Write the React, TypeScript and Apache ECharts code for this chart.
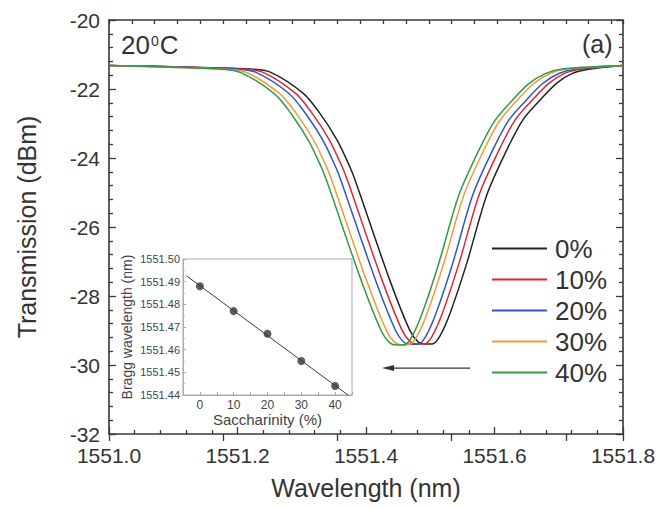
import React, { useEffect, useRef } from 'react';
import * as echarts from 'echarts';

const FONT = '"Liberation Sans", Arial, Helvetica, sans-serif';
const TEXT = '#333333';
const AXIS = '#383838';

// ---- main spectra (wavelength nm, transmission dBm) ----
const concentrations = ['0%', '10%', '20%', '30%', '40%'];
const curveColors = ['#232323', '#e2262d', '#2b57c8', '#f29a3e', '#2f9b47'];

const wavelength0 = [1551.000, 1551.219, 1551.251, 1551.302, 1551.328, 1551.355, 1551.375, 1551.383, 1551.437, 1551.468, 1551.481, 1551.492, 1551.503, 1551.515, 1551.531, 1551.557, 1551.588, 1551.619, 1551.644, 1551.671, 1551.697, 1551.722, 1551.749, 1551.800];
const transmission0 = [-21.32, -21.42, -21.51, -22.12, -22.70, -23.48, -24.26, -24.64, -27.54, -28.99, -29.33, -29.39, -29.39, -29.16, -28.49, -27.04, -25.07, -23.77, -22.90, -22.32, -21.83, -21.54, -21.42, -21.32];

const wavelength10 = [1551.000, 1551.207, 1551.239, 1551.290, 1551.316, 1551.343, 1551.363, 1551.371, 1551.425, 1551.456, 1551.469, 1551.480, 1551.491, 1551.503, 1551.519, 1551.545, 1551.576, 1551.607, 1551.632, 1551.659, 1551.685, 1551.710, 1551.737, 1551.800];
const transmission10 = [-21.32, -21.42, -21.51, -22.12, -22.70, -23.48, -24.26, -24.64, -27.54, -28.99, -29.33, -29.39, -29.39, -29.16, -28.49, -27.04, -25.07, -23.77, -22.90, -22.32, -21.83, -21.54, -21.42, -21.32];

const wavelength20 = [1551.000, 1551.197, 1551.229, 1551.280, 1551.306, 1551.333, 1551.353, 1551.361, 1551.415, 1551.446, 1551.459, 1551.470, 1551.481, 1551.493, 1551.509, 1551.535, 1551.566, 1551.597, 1551.622, 1551.649, 1551.675, 1551.700, 1551.727, 1551.800];
const transmission20 = [-21.32, -21.42, -21.52, -22.13, -22.71, -23.49, -24.27, -24.65, -27.55, -29.00, -29.34, -29.40, -29.40, -29.17, -28.50, -27.05, -25.08, -23.78, -22.91, -22.33, -21.84, -21.55, -21.42, -21.32];

const wavelength30 = [1551.000, 1551.183, 1551.215, 1551.266, 1551.292, 1551.319, 1551.339, 1551.347, 1551.401, 1551.432, 1551.445, 1551.456, 1551.467, 1551.479, 1551.495, 1551.521, 1551.552, 1551.583, 1551.608, 1551.635, 1551.661, 1551.686, 1551.713, 1551.800];
const transmission30 = [-21.32, -21.43, -21.53, -22.14, -22.72, -23.50, -24.28, -24.66, -27.56, -29.01, -29.35, -29.41, -29.41, -29.18, -28.51, -27.06, -25.09, -23.79, -22.92, -22.33, -21.84, -21.55, -21.42, -21.32];

const wavelength40 = [1551.000, 1551.175, 1551.207, 1551.258, 1551.284, 1551.311, 1551.331, 1551.339, 1551.393, 1551.424, 1551.437, 1551.448, 1551.459, 1551.471, 1551.487, 1551.513, 1551.544, 1551.575, 1551.600, 1551.627, 1551.653, 1551.678, 1551.705, 1551.800];
const transmission40 = [-21.32, -21.43, -21.54, -22.15, -22.73, -23.51, -24.29, -24.67, -27.57, -29.02, -29.36, -29.42, -29.42, -29.19, -28.52, -27.07, -25.10, -23.80, -22.93, -22.34, -21.85, -21.56, -21.42, -21.32];

const wavelengths = [wavelength0, wavelength10, wavelength20, wavelength30, wavelength40];
const transmissions = [transmission0, transmission10, transmission20, transmission30, transmission40];

// ---- inset: Bragg wavelength vs saccharinity ----
const saccharinity = [0, 10, 20, 30, 40];
const braggWavelength = [1551.488, 1551.477, 1551.467, 1551.455, 1551.444];
const fitSaccharinity = [-4, 44];
const fitWavelength = [1551.4926, 1551.4398];

// arrow annotation (data coordinates)
const arrowStart = [1551.562, -30.09];
const arrowEnd = [1551.425, -30.09];

const tickStyle = { color: AXIS, width: 1.3 };

export default function App() {
  const ref = useRef<HTMLDivElement>(null);

  useEffect(() => {
    if (!ref.current) return;
    const chart = echarts.init(ref.current, null, { renderer: 'svg' });

    const mainSeries = concentrations.map((name, k) => ({
      name,
      type: 'line',
      xAxisIndex: 0,
      yAxisIndex: 0,
      data: wavelengths[k].map((w, i) => [w, transmissions[k][i]]),
      symbol: 'none',
      showSymbol: false,
      smooth: 0.3,
      color: curveColors[k],
      lineStyle: { width: 1.5, color: curveColors[k] },
      z: 3,
    }));

    chart.setOption({
      animation: false,
      backgroundColor: '#ffffff',
      textStyle: { fontFamily: FONT },
      grid: [
        { left: 109, right: 47, top: 20, bottom: 74, outerBoundsMode: 'none', containLabel: false },
        { left: 183, top: 259, width: 169, height: 136, show: true, borderColor: '#aaaaaa', borderWidth: 1, backgroundColor: 'transparent', outerBoundsMode: 'none', containLabel: false },
        { left: 109, right: 47, top: 20, bottom: 74, show: false, outerBoundsMode: 'none', containLabel: false },
      ],
      legend: {
        data: concentrations,
        orient: 'vertical',
        left: 492,
        top: 233,
        padding: 0,
        itemGap: 0,
        itemWidth: 55,
        itemHeight: 2,
        icon: 'rect',
        selectedMode: false,
        textStyle: { fontSize: 26, color: TEXT, lineHeight: 31, fontFamily: FONT, padding: [0, 0, 0, 3] },
      },
      xAxis: [
        {
          type: 'value', gridIndex: 0, position: 'bottom',
          min: 1551.0, max: 1551.8, interval: 0.2,
          name: 'Wavelength (nm)', nameLocation: 'middle', nameGap: 41,
          nameTextStyle: { fontSize: 25, color: TEXT, fontFamily: FONT },
          axisLine: { show: true, onZero: false, lineStyle: { color: AXIS, width: 1.6 } },
          axisTick: { show: true, inside: true, length: 7, lineStyle: tickStyle },
          minorTick: { show: true, splitNumber: 5, length: 4, lineStyle: tickStyle },
          splitLine: { show: false },
          axisLabel: { fontSize: 21, color: TEXT, margin: 11, fontFamily: FONT, formatter: (v: number) => v.toFixed(1) },
        },
        {
          type: 'value', gridIndex: 0, position: 'top',
          min: 0, max: 0.9, interval: 0.04,
          axisLine: { show: true, onZero: false, lineStyle: { color: AXIS, width: 1.6 } },
          axisTick: { show: true, inside: true, length: 4, lineStyle: tickStyle },
          axisLabel: { show: false },
          splitLine: { show: false },
        },
        {
          type: 'value', gridIndex: 1, position: 'bottom',
          min: -5, max: 45, interval: 5,
          name: 'Saccharinity (%)', nameLocation: 'middle', nameGap: 16,
          nameTextStyle: { fontSize: 15, color: '#444444', fontFamily: FONT },
          axisLine: { show: true, onZero: false, lineStyle: { color: '#aaaaaa', width: 1 } },
          axisTick: { show: true, inside: true, length: 3, lineStyle: { color: '#aaaaaa' } },
          splitLine: { show: false },
          axisLabel: { fontSize: 12, color: '#444444', margin: 4, fontFamily: FONT, formatter: (v: number) => (v % 10 === 0 ? String(v) : '') },
        },
        {
          type: 'value', gridIndex: 2, position: 'top',
          min: 0, max: 0.9, interval: 0.2,
          axisLine: { show: false },
          axisTick: { show: true, inside: true, length: 7, lineStyle: tickStyle },
          axisLabel: { show: false },
          splitLine: { show: false },
        },
      ],
      yAxis: [
        {
          type: 'value', gridIndex: 0, position: 'left',
          min: -32, max: -20, interval: 2,
          name: 'Transmission (dBm)', nameLocation: 'middle', nameGap: 70,
          nameTextStyle: { fontSize: 25, color: TEXT, fontFamily: FONT },
          axisLine: { show: true, onZero: false, lineStyle: { color: AXIS, width: 1.6 } },
          axisTick: { show: true, inside: true, length: 7, lineStyle: tickStyle },
          minorTick: { show: true, splitNumber: 5, length: 4, lineStyle: tickStyle },
          splitLine: { show: false },
          axisLabel: { fontSize: 21, color: TEXT, margin: 9, fontFamily: FONT },
        },
        {
          type: 'value', gridIndex: 0, position: 'right',
          min: -32, max: -20, interval: 2,
          axisLine: { show: true, onZero: false, lineStyle: { color: AXIS, width: 1.6 } },
          axisTick: { show: true, inside: true, length: 7, lineStyle: tickStyle },
          minorTick: { show: true, splitNumber: 5, length: 4, lineStyle: tickStyle },
          splitLine: { show: false },
          axisLabel: { show: false },
        },
        {
          type: 'value', gridIndex: 1, position: 'left',
          min: 1551.44, max: 1551.5, interval: 0.01,
          name: 'Bragg wavelength (nm)', nameLocation: 'middle', nameGap: 49,
          nameTextStyle: { fontSize: 14, color: '#444444', fontFamily: FONT },
          axisLine: { show: true, onZero: false, lineStyle: { color: '#aaaaaa', width: 1 } },
          axisTick: { show: true, inside: true, length: 3, lineStyle: { color: '#aaaaaa' } },
          minorTick: { show: true, splitNumber: 2, length: 2, lineStyle: { color: '#bbbbbb' } },
          splitLine: { show: false },
          axisLabel: { fontSize: 11, color: '#444444', margin: 3, fontFamily: FONT, formatter: (v: number) => v.toFixed(2) },
        },
        {
          type: 'value', gridIndex: 2, show: false, min: 0, max: 1,
        },
      ],
      series: [
        ...mainSeries,
        {
          name: 'fit',
          type: 'line',
          xAxisIndex: 2,
          yAxisIndex: 2,
          data: fitSaccharinity.map((s, i) => [s, fitWavelength[i]]),
          symbol: 'none',
          lineStyle: { color: '#3a3a3a', width: 1 },
          z: 4,
        },
        {
          name: 'Bragg',
          type: 'scatter',
          xAxisIndex: 2,
          yAxisIndex: 2,
          data: saccharinity.map((s, i) => [s, braggWavelength[i]]),
          symbol: 'circle',
          symbolSize: 8,
          itemStyle: { color: '#333333' },
          z: 5,
        },
      ],
    });

    const p0 = chart.convertToPixel({ xAxisIndex: 0, yAxisIndex: 0 }, arrowStart) as number[];
    const p1 = chart.convertToPixel({ xAxisIndex: 0, yAxisIndex: 0 }, arrowEnd) as number[];

    chart.setOption({
      graphic: [
        {
          type: 'text',
          left: 121,
          top: 32,
          style: {
            text: '{b|20}{s|0}{b|C}',
            fontFamily: FONT,
            rich: {
              b: { fontSize: 26, lineHeight: 26, fill: TEXT, fontFamily: FONT },
              s: { fontSize: 14, lineHeight: 14, fill: TEXT, fontFamily: FONT, verticalAlign: 'top', padding: [2, 1, 0, 1] },
            },
          },
          z: 10,
        },
        {
          type: 'text',
          left: 582,
          top: 31,
          style: { text: '(a)', fontSize: 25, fill: TEXT, fontFamily: FONT },
          z: 10,
        },
        {
          type: 'line',
          shape: { x1: p0[0], y1: p0[1], x2: p1[0] + 10, y2: p1[1] },
          style: { stroke: '#333333', lineWidth: 1.3 },
          z: 10,
        },
        {
          type: 'polygon',
          shape: { points: [[p1[0], p1[1]], [p1[0] + 12, p1[1] - 3], [p1[0] + 12, p1[1] + 3]] },
          style: { fill: '#333333' },
          z: 10,
        },
      ],
    });

    return () => chart.dispose();
  }, []);

  return (
    <div
      ref={ref}
      style={{ position: 'fixed', left: 0, top: 0, width: 670, height: 508, background: '#fff' }}
    />
  );
}
